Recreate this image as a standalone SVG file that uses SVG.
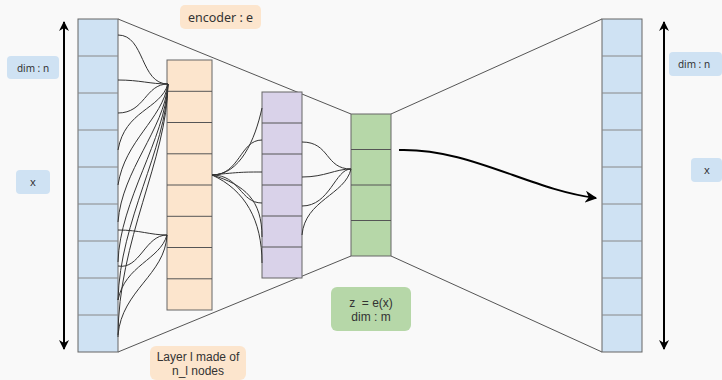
<svg xmlns="http://www.w3.org/2000/svg" width="722" height="380" viewBox="0 0 722 380">
  <defs>
    <marker id="head" viewBox="0 0 10 10" refX="9" refY="5" markerWidth="5" markerHeight="5" orient="auto-start-reverse" markerUnits="strokeWidth">
      <path d="M0,0 L10,5 L0,10 L3,5 Z" fill="#000"/>
    </marker>
    <marker id="head2" viewBox="0 0 10 10" refX="9" refY="5" markerWidth="6" markerHeight="6" orient="auto" markerUnits="strokeWidth">
      <path d="M0,0 L10,5 L0,10 L3,5 Z" fill="#000"/>
    </marker>
  </defs>
  <style>
    .cell { stroke: #666; stroke-width: 1; }
    .blue { fill: #cfe2f3; }
    .orange { fill: #fce5cd; }
    .purple { fill: #d9d2e9; }
    .green { fill: #b6d7a8; }
    .sep { stroke: #555; stroke-width: 1; fill: none; }
    .sep-light { stroke: #888; stroke-width: 1; fill: none; }
    .wire { stroke: #333; stroke-width: 1; fill: none; }
    .edge { stroke: #555; stroke-width: 1; fill: none; }
    .axis { stroke: #000; stroke-width: 2; fill: none; }
    .lbl { font-family: "Noto Sans", "Open Sans", sans-serif; fill: #333; text-anchor: middle; white-space: pre; }
    .lbl2 { font-family: "Liberation Sans", Arial, sans-serif; font-size: 12px; fill: #333; text-anchor: middle; white-space: pre; }
  </style>
  <rect width="722" height="380" fill="#f9f9f9"/>

  <!-- outline of the encoder / decoder funnel -->
  <g id="funnel">
    <path class="edge" d="M118,19 L351,114 M118,352 L351,256 M391,114 L602,19 M391,256 L602,352"/>
  </g>

  <!-- input layer -->
  <g id="input-layer">
    <rect class="cell blue" x="78" y="19" width="40" height="333"/>
    <path class="sep-light" d="M78,56 H118 M78,93 H118 M78,130 H118 M78,167 H118 M78,204 H118 M78,241 H118 M78,278 H118 M78,315 H118"/>
  </g>

  <!-- hidden layer l -->
  <g id="hidden-layer">
    <rect class="cell orange" x="167" y="60" width="45" height="250"/>
    <path class="sep" d="M167,91.3 H212 M167,122.5 H212 M167,153.8 H212 M167,185 H212 M167,216.3 H212 M167,247.5 H212 M167,278.8 H212"/>
  </g>

  <!-- second hidden layer -->
  <g id="hidden-layer-2">
    <rect class="cell purple" x="262" y="92" width="40" height="186"/>
    <path class="sep" d="M262,123 H302 M262,154 H302 M262,185 H302 M262,216 H302 M262,247 H302"/>
  </g>

  <!-- code layer z -->
  <g id="code-layer">
    <rect class="cell green" x="351" y="114" width="40" height="142"/>
    <path class="sep" d="M351,149.5 H391 M351,185 H391 M351,220.5 H391"/>
  </g>

  <!-- output layer -->
  <g id="output-layer">
    <rect class="cell blue" x="602" y="19" width="40" height="333"/>
    <path class="sep-light" d="M602,56 H642 M602,93 H642 M602,130 H642 M602,167 H642 M602,204 H642 M602,241 H642 M602,278 H642 M602,315 H642"/>
  </g>

  <!-- weighted links between layers -->
  <g id="connectors">
    <!-- input to node at (168,84) -->
    <path class="wire" d="M118,35 C145,35 140,84 168,84"/>
    <path class="wire" d="M118,80 C140,80 150,84 168,84"/>
    <path class="wire" d="M118,113 C145,113 145,84 168,84"/>
    <path class="wire" d="M118,150 C125,110 160,110 168,84"/>
    <path class="wire" d="M118,185 C125,140 162,120 168,84"/>
    <path class="wire" d="M118,222 C122,170 164,130 168,84"/>
    <path class="wire" d="M118,262 C120,200 165,140 168,84"/>
    <path class="wire" d="M118,300 C120,220 166,150 168,84"/>
    <path class="wire" d="M118,337 C118,240 167,160 168,84"/>
    <!-- input to node at (167,235) -->
    <path class="wire" d="M118,230 C140,230 150,235 167,235"/>
    <path class="wire" d="M118,266 C140,270 145,235 167,235"/>
    <path class="wire" d="M118,300 C125,265 160,260 167,235"/>
    <path class="wire" d="M118,335 C122,290 165,275 167,235"/>
    <!-- hidden layer to second hidden layer -->
    <path class="wire" d="M212,175 C240,175 255,140 262,108"/>
    <path class="wire" d="M212,175 C240,175 240,140 262,140"/>
    <path class="wire" d="M212,175 C240,172 245,172 262,172"/>
    <path class="wire" d="M212,175 C240,175 240,203 262,203"/>
    <path class="wire" d="M212,175 C245,185 262,200 262,237"/>
    <path class="wire" d="M212,175 C245,190 262,220 262,263"/>
    <!-- second hidden layer to code layer -->
    <path class="wire" d="M302,142 C330,142 325,169 351,169"/>
    <path class="wire" d="M302,177 C325,177 335,169 351,169"/>
    <path class="wire" d="M302,206 C330,206 335,169 351,169"/>
    <path class="wire" d="M302,235 C305,200 345,195 351,169"/>
    <!-- code to reconstruction -->
    <path class="axis" d="M399,150 C470,148 530,190 596,198" marker-end="url(#head2)"/>
  </g>

  <!-- dimension axes -->
  <g id="axis-left">
    <path class="axis" d="M64,22 V349" marker-start="url(#head)" marker-end="url(#head)"/>
  </g>
  <g id="axis-right">
    <path class="axis" d="M664,22 V349" marker-start="url(#head)" marker-end="url(#head)"/>
  </g>

  <!-- labels -->
  <g id="label-dim-n-left">
    <rect x="7" y="56" width="52" height="23" rx="4" fill="#cfe2f3"/>
    <text class="lbl" x="33" y="71.5" font-size="10">dim : n</text>
  </g>
  <g id="label-x-left">
    <rect x="16" y="170" width="34" height="24" rx="4" fill="#cfe2f3"/>
    <text class="lbl" x="33" y="186" font-size="11">x</text>
  </g>
  <g id="label-encoder">
    <rect x="180" y="5" width="81" height="24" rx="5" fill="#fce5cd"/>
    <text class="lbl" x="220.5" y="21.5" font-size="12.5">encoder : e</text>
  </g>
  <g id="label-z">
    <rect x="331" y="287" width="80" height="44" rx="6" fill="#b6d7a8"/>
    <text class="lbl2" x="371" y="307">z  = e(x)</text>
    <text class="lbl2" x="371" y="320.5">dim : m</text>
  </g>
  <g id="label-layer">
    <rect x="150" y="346" width="96" height="34" rx="6" fill="#fce5cd"/>
    <text class="lbl2" x="198" y="361">Layer l made of</text>
    <text class="lbl2" x="198" y="374.5">n_l nodes</text>
  </g>
  <g id="label-dim-n-right">
    <rect x="669" y="52" width="53" height="24" rx="4" fill="#cfe2f3"/>
    <text class="lbl" x="694" y="67.5" font-size="10">dim : n</text>
  </g>
  <g id="label-x-right">
    <rect x="691" y="158" width="31" height="24" rx="4" fill="#cfe2f3"/>
    <text class="lbl" x="707" y="174" font-size="11">x</text>
  </g>
</svg>
